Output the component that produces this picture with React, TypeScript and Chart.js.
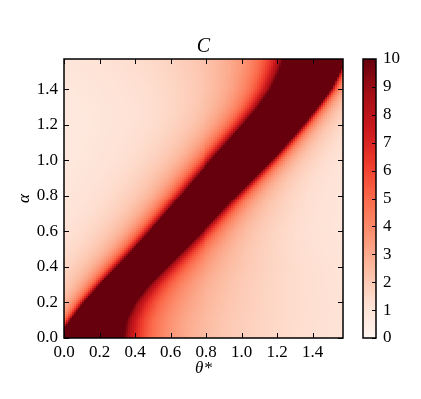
import React, { useEffect, useRef } from 'react';
import { Chart, registerables } from 'chart.js';

Chart.register(...registerables);

const HALF_PI = Math.PI / 2;

const alphaRows = [0, 0.1, 0.2, 0.3, 0.4, 0.5, 0.6, 0.7, 0.8, 0.9, 1.0, 1.1, 1.2, 1.3, 1.4, 1.5, 1.571];
// theta* where C reaches 10 on the upper-left side of the dark band
const bandLeft = [-0.04, 0.035, 0.11, 0.2, 0.295, 0.39, 0.48, 0.567, 0.652, 0.737, 0.825, 0.915, 1.005, 1.09, 1.162, 1.21, 1.235];
// theta* where C drops below 10 on the lower-right side of the dark band
const bandRight = [0.335, 0.35, 0.4, 0.48, 0.58, 0.683, 0.783, 0.878, 0.972, 1.073, 1.172, 1.263, 1.35, 1.43, 1.505, 1.555, 1.6];
// fall-off widths (theta* distance at which C has halved) on each side of the band
const decayLeft = [0.03, 0.035, 0.04, 0.048, 0.055, 0.058, 0.06, 0.062, 0.065, 0.068, 0.07, 0.075, 0.08, 0.09, 0.105, 0.12, 0.13];
const decayRight = [0.15, 0.15, 0.145, 0.13, 0.115, 0.095, 0.08, 0.07, 0.06, 0.052, 0.046, 0.042, 0.038, 0.035, 0.032, 0.03, 0.03];

const xTicks = [0, 0.2, 0.4, 0.6, 0.8, 1.0, 1.2, 1.4];
const yTicks = [0, 0.2, 0.4, 0.6, 0.8, 1.0, 1.2, 1.4];
const cbTicks = [0, 1, 2, 3, 4, 5, 6, 7, 8, 9, 10];
const vMax = 10;
const gridSize = 140;

const redsStops = ['#fff5f0', '#fee0d2', '#fcbba1', '#fc9272', '#fb6a4a', '#ef3b2c', '#cb181d', '#a50f15', '#67000d'];
const stopRgb = redsStops.map((h) => [
  parseInt(h.slice(1, 3), 16),
  parseInt(h.slice(3, 5), 16),
  parseInt(h.slice(5, 7), 16),
]);

function reds(t: number): string {
  const tt = Math.max(0, Math.min(1, t)) * (stopRgb.length - 1);
  const i = Math.min(stopRgb.length - 2, Math.floor(tt));
  const f = tt - i;
  const a = stopRgb[i];
  const b = stopRgb[i + 1];
  const r = Math.round(a[0] + (b[0] - a[0]) * f);
  const g = Math.round(a[1] + (b[1] - a[1]) * f);
  const bl = Math.round(a[2] + (b[2] - a[2]) * f);
  return `rgb(${r},${g},${bl})`;
}

function rowValue(arr: number[], a: number): number {
  if (a <= alphaRows[0]) return arr[0];
  for (let i = 0; i < alphaRows.length - 1; i++) {
    if (a <= alphaRows[i + 1]) {
      const f = (a - alphaRows[i]) / (alphaRows[i + 1] - alphaRows[i]);
      return arr[i] + (arr[i + 1] - arr[i]) * f;
    }
  }
  return arr[arr.length - 1];
}

function cValue(th: number, a: number): number {
  const L = rowValue(bandLeft, a);
  const R = rowValue(bandRight, a);
  if (th >= L && th <= R) return vMax;
  if (th < L) {
    const w = rowValue(decayLeft, a);
    return (vMax * w) / (w + (L - th));
  }
  const w = rowValue(decayRight, a);
  return (vMax * w) / (w + (th - R));
}

const FONT = 'Liberation Serif';

const heatmapPlugin = {
  id: 'heatmap',
  beforeDatasetsDraw(chart: any) {
    const { ctx, scales } = chart;
    const x = scales.x;
    const y = scales.y;
    const step = HALF_PI / gridSize;
    ctx.save();
    for (let j = 0; j < gridSize; j++) {
      const am = (j + 0.5) * step;
      const yTop = Math.round(y.getPixelForValue((j + 1) * step));
      const yBot = Math.round(y.getPixelForValue(j * step));
      for (let i = 0; i < gridSize; i++) {
        const tm = (i + 0.5) * step;
        const xL = Math.round(x.getPixelForValue(i * step));
        const xR = Math.round(x.getPixelForValue((i + 1) * step));
        ctx.fillStyle = reds(Math.min(cValue(tm, am), vMax) / vMax);
        ctx.fillRect(xL, yTop, xR - xL, yBot - yTop);
      }
    }
    ctx.restore();
  },
};

const framePlugin = {
  id: 'frame',
  afterDatasetsDraw(chart: any) {
    const { ctx, chartArea: ca, scales } = chart;
    ctx.save();
    ctx.strokeStyle = '#000';
    ctx.lineWidth = 1;
    const tl = 5;
    ctx.beginPath();
    xTicks.forEach((v) => {
      const px = Math.round(scales.x.getPixelForValue(v)) + 0.5;
      ctx.moveTo(px, ca.bottom);
      ctx.lineTo(px, ca.bottom - tl);
      ctx.moveTo(px, ca.top);
      ctx.lineTo(px, ca.top + tl);
    });
    yTicks.forEach((v) => {
      const py = Math.round(scales.y.getPixelForValue(v)) + 0.5;
      ctx.moveTo(ca.left, py);
      ctx.lineTo(ca.left + tl, py);
      ctx.moveTo(ca.right, py);
      ctx.lineTo(ca.right - tl, py);
    });
    ctx.stroke();
    ctx.lineWidth = 1.5;
    ctx.strokeRect(ca.left, ca.top, ca.right - ca.left, ca.bottom - ca.top);
    ctx.restore();
  },
};

const colorbarPlugin = {
  id: 'colorbar',
  beforeDatasetsDraw(chart: any) {
    const { ctx, chartArea: ca, scales } = chart;
    const y = scales.y;
    const n = 256;
    ctx.save();
    for (let k = 0; k < n; k++) {
      const top = Math.floor(y.getPixelForValue(((k + 1) * vMax) / n));
      const bot = Math.ceil(y.getPixelForValue((k * vMax) / n));
      ctx.fillStyle = reds((k + 0.5) / n);
      ctx.fillRect(ca.left, top, ca.right - ca.left, bot - top);
    }
    ctx.restore();
  },
  afterDatasetsDraw(chart: any) {
    const { ctx, chartArea: ca, scales } = chart;
    ctx.save();
    ctx.strokeStyle = '#000';
    ctx.lineWidth = 1;
    ctx.beginPath();
    cbTicks.forEach((v) => {
      const py = Math.round(scales.y.getPixelForValue(v)) + 0.5;
      ctx.moveTo(ca.right, py);
      ctx.lineTo(ca.right - 4, py);
    });
    ctx.stroke();
    ctx.lineWidth = 1.5;
    ctx.strokeRect(ca.left, ca.top, ca.right - ca.left, ca.bottom - ca.top);
    ctx.restore();
  },
};

const tickFont = { family: FONT, size: 17 };

export default function App() {
  const mainRef = useRef<HTMLCanvasElement>(null);
  const cbRef = useRef<HTMLCanvasElement>(null);

  useEffect(() => {
    const main = new Chart(mainRef.current as HTMLCanvasElement, {
      type: 'scatter',
      data: { datasets: [] },
      options: {
        responsive: false,
        animation: false,
        devicePixelRatio: 1,
        layout: { padding: { left: 0, right: 78, top: 0, bottom: 0 } },
        plugins: {
          legend: { display: false },
          tooltip: { enabled: false },
          title: {
            display: true,
            text: 'C',
            fullSize: false,
            color: '#000',
            font: { family: FONT, size: 20, style: 'italic', weight: 'normal' },
            padding: { top: 35, bottom: 0 },
          },
        },
        scales: {
          x: {
            type: 'linear',
            min: 0,
            max: HALF_PI,
            afterBuildTicks: (s: any) => {
              s.ticks = xTicks.map((v) => ({ value: v }));
            },
            afterFit: (s: any) => {
              s.height = 61;
            },
            grid: { display: false, drawTicks: false },
            border: { display: false },
            ticks: {
              padding: 4,
              color: '#000',
              font: tickFont,
              maxRotation: 0,
              autoSkip: false,
              callback: (v: any) => Number(v).toFixed(1),
            },
            title: {
              display: true,
              text: 'θ*',
              color: '#000',
              font: { family: FONT, size: 17, style: 'italic' },
              padding: { top: 0, bottom: 20 },
            },
          },
          y: {
            type: 'linear',
            min: 0,
            max: HALF_PI,
            afterBuildTicks: (s: any) => {
              s.ticks = yTicks.map((v) => ({ value: v }));
            },
            afterFit: (s: any) => {
              s.width = 64;
            },
            grid: { display: false, drawTicks: false },
            border: { display: false },
            ticks: {
              padding: 6,
              color: '#000',
              font: tickFont,
              autoSkip: false,
              callback: (v: any) => Number(v).toFixed(1),
            },
            title: {
              display: true,
              text: 'α',
              color: '#000',
              font: { family: FONT, size: 17, style: 'italic' },
              padding: { top: 14, bottom: 0 },
            },
          },
        },
      } as any,
      plugins: [heatmapPlugin, framePlugin],
    });

    const cb = new Chart(cbRef.current as HTMLCanvasElement, {
      type: 'scatter',
      data: { datasets: [] },
      options: {
        responsive: false,
        animation: false,
        devicePixelRatio: 1,
        layout: { padding: { left: 23, right: 0, top: 59, bottom: 61 } },
        plugins: { legend: { display: false }, tooltip: { enabled: false } },
        scales: {
          x: { display: false, min: 0, max: 1 },
          y: {
            type: 'linear',
            position: 'right',
            min: 0,
            max: vMax,
            afterBuildTicks: (s: any) => {
              s.ticks = cbTicks.map((v) => ({ value: v }));
            },
            afterFit: (s: any) => {
              s.width = 45;
            },
            grid: { display: false, drawTicks: false },
            border: { display: false },
            ticks: {
              padding: 7,
              color: '#000',
              font: tickFont,
              autoSkip: false,
              callback: (v: any) => String(v),
            },
          },
        },
      } as any,
      plugins: [colorbarPlugin],
    });

    return () => {
      main.destroy();
      cb.destroy();
    };
  }, []);

  return (
    <div style={{ position: 'fixed', left: 0, top: 0, width: 421, height: 399, background: '#fff' }}>
      <canvas
        ref={mainRef}
        width={421}
        height={399}
        style={{ position: 'absolute', left: 0, top: 0, width: 421, height: 399 }}
      />
      <canvas
        ref={cbRef}
        width={81}
        height={399}
        style={{ position: 'absolute', left: 340, top: 0, width: 81, height: 399 }}
      />
    </div>
  );
}
